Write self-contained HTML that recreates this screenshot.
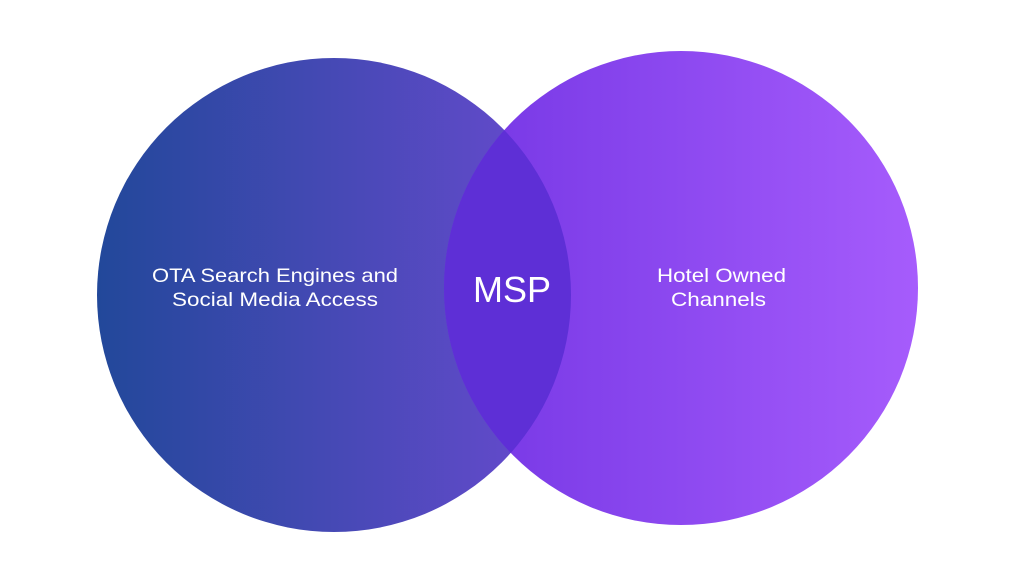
<!DOCTYPE html>
<html><head><style>
html,body{margin:0;padding:0;background:#fff;}
svg{display:block}
text{font-family:"Liberation Sans",sans-serif;fill:#fff}
</style></head><body>
<svg width="1024" height="576" viewBox="0 0 1024 576">
<defs>
<linearGradient id="gl" x1="97" x2="572" y1="0" y2="0" gradientUnits="userSpaceOnUse">
<stop offset="0" stop-color="#22489a"/><stop offset="1" stop-color="#6a4ad0"/>
</linearGradient>
<linearGradient id="gr" x1="445" x2="918" y1="0" y2="0" gradientUnits="userSpaceOnUse">
<stop offset="0" stop-color="#7436e4"/><stop offset="1" stop-color="#a65cfc"/>
</linearGradient>
<clipPath id="cl"><circle cx="334" cy="295" r="237"/></clipPath>
</defs>
<circle cx="334" cy="295" r="237" fill="url(#gl)"/>
<circle cx="681" cy="288" r="237" fill="url(#gr)"/>
<circle cx="681" cy="288" r="237" fill="#5e2fd6" clip-path="url(#cl)"/>
<text x="152" y="282" font-size="19.5" textLength="246" lengthAdjust="spacingAndGlyphs">OTA Search Engines and</text>
<text x="172" y="306" font-size="19.5" textLength="206" lengthAdjust="spacingAndGlyphs">Social Media Access</text>
<text x="512" y="302" font-size="36" text-anchor="middle">MSP</text>
<text x="657" y="282" font-size="19.5" textLength="129" lengthAdjust="spacingAndGlyphs">Hotel Owned</text>
<text x="671" y="306" font-size="19.5" textLength="95" lengthAdjust="spacingAndGlyphs">Channels</text>
</svg>
</body></html>
